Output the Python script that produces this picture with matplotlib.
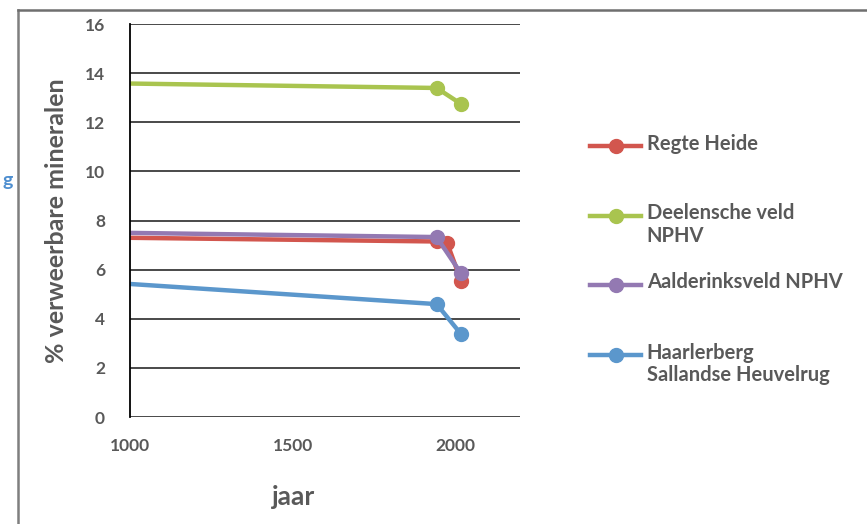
import matplotlib
matplotlib.use("Agg")
import matplotlib.pyplot as plt
from matplotlib.lines import Line2D

plt.rcParams["font.family"] = ["Lato", "DejaVu Sans"]
plt.rcParams["font.weight"] = "bold"

# data (first point sits on the left edge, unmarked)
regte_jaar = [1000, 1943, 1975, 2018]
regte_pct = [7.30, 7.15, 7.10, 5.55]

deelen_jaar = [1000, 1943, 2018]
deelen_pct = [13.58, 13.40, 12.75]

aalder_jaar = [1000, 1943, 2018]
aalder_pct = [7.50, 7.33, 5.85]

haarler_jaar = [1000, 1943, 2018]
haarler_pct = [5.42, 4.60, 3.38]

series = [
    ("Regte Heide", regte_jaar, regte_pct, "#D2564E"),
    ("Deelensche veld\nNPHV", deelen_jaar, deelen_pct, "#A9C44F"),
    ("Aalderinksveld NPHV", aalder_jaar, aalder_pct, "#9379B2"),
    ("Haarlerberg\nSallandse Heuvelrug", haarler_jaar, haarler_pct, "#5B97CC"),
]

y_ticks = [0, 2, 4, 6, 8, 10, 12, 14, 16]
x_ticks = [1000, 1500, 2000]

text_color = "#595959"

fig = plt.figure(figsize=(8.67, 5.24), dpi=100)
ax = fig.add_axes([0.150, 0.204, 0.450, 0.750])

for label, jaar, pct, color in series:
    ax.plot(jaar, pct, color=color, linewidth=3.2, marker="o", markersize=10,
            markevery=list(range(1, len(jaar))), solid_capstyle="butt")

ax.set_xlim(1000, 2200)
ax.set_ylim(0, 16)
ax.set_yticks(y_ticks)
ax.set_xticks(x_ticks)
ax.grid(True, axis="y", color="#3a3a3a", linewidth=1.3)
ax.set_axisbelow(True)
for side in ["top", "right", "bottom"]:
    ax.spines[side].set_visible(False)
ax.spines["left"].set_color("black")
ax.spines["left"].set_linewidth(1.3)
ax.tick_params(axis="both", length=0, labelsize=12.5, labelcolor=text_color)
ax.tick_params(axis="y", pad=18)
ax.tick_params(axis="x", pad=15)
for lab in ax.get_xticklabels() + ax.get_yticklabels():
    lab.set_fontweight("bold")

ax.set_ylabel("% verweerbare mineralen", fontsize=18, fontweight="bold",
              color=text_color, labelpad=12)
ax.set_xlabel("jaar", fontsize=19, fontweight="bold", color=text_color)
ax.xaxis.set_label_coords(0.42, -0.172)

# legend drawn by hand: handle aligned with the first line of each label
legend_y = [0.721, 0.588, 0.456, 0.322]
for (label, jaar, pct, color), ly in zip(series, legend_y):
    fig.add_artist(Line2D([0.680, 0.739], [ly, ly], color=color, linewidth=3.2))
    fig.add_artist(Line2D([0.7105], [ly], color=color, marker="o", markersize=10))
    fig.text(0.746, ly + 0.024, label, color=text_color, fontsize=14.5,
             fontweight="bold", va="top", ha="left", linespacing=1.15)

# outer frame of the cut-out and the stray letter on the left
fig.add_artist(Line2D([0.021, 0.021], [0.0, 0.981], color="#7f7f7f", linewidth=1.8))
fig.add_artist(Line2D([0.021, 1.0], [0.981, 0.981], color="#6f6f6f", linewidth=1.8))
fig.text(0.003, 0.655, "g", color="#4F8FD0", fontsize=14, fontweight="bold", va="center")

fig.savefig("out.png", dpi=100)
